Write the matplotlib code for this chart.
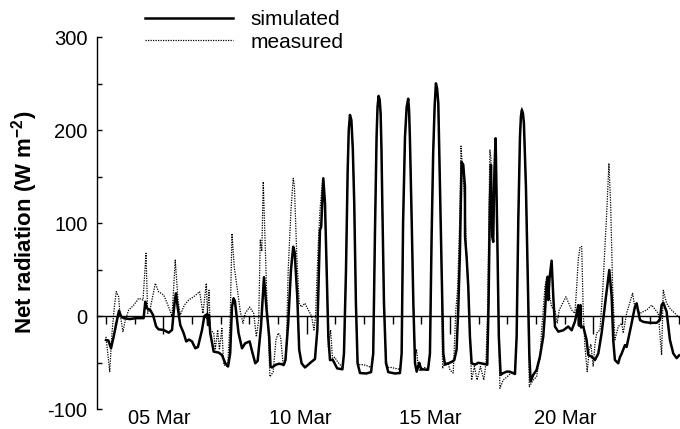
import numpy as np
import matplotlib
matplotlib.use('Agg')
import matplotlib.pyplot as plt
from matplotlib.ticker import MultipleLocator, FixedLocator

plt.rcParams['font.family'] = ['Liberation Sans', 'DejaVu Sans']
plt.rcParams['mathtext.fontset'] = 'custom'
plt.rcParams['mathtext.rm'] = 'Liberation Sans'
plt.rcParams['mathtext.bf'] = 'Liberation Sans:bold'
plt.rcParams['axes.unicode_minus'] = False

# hours since 03 Mar 00:00
start_day = 3
sim_hours = [0, 2, 4.2, 6.4, 9.2, 10.9, 12.6, 14.8, 20, 25, 31.5, 32.9, 34.3, 37, 39.4,
             42, 44, 48.3, 52.5, 55.3, 57.5, 58.6, 60, 62.2, 65, 67.2, 69.5, 72, 74.8,
             77, 80.4, 82.3, 83.5, 84.2, 84.8, 85.5, 86.2, 87.3, 90.2, 94.3, 97.1, 99.9,
             102.2, 104, 105.5, 106.9, 108, 111, 113.9, 116.6, 120.3, 122, 125, 127,
             129.8, 132.3, 134.5, 136.7, 137.8, 139, 142.3, 145, 149, 150.3, 152.6,
             154.9, 156.8, 158, 160.2, 161.8, 163.8, 166.6, 169.4, 172, 175, 177, 179.2,
             180.2, 182, 183.4, 184.8, 186.2, 187.6, 190, 193.6, 198, 199.3, 201, 202.4,
             203.3, 204.3, 205.5, 206.7, 207.9, 209.3, 210.7, 212.7, 218, 222, 223.8,
             225.2, 226.6, 227.4, 228.3, 229.2, 230, 230.7, 231.4, 232.8, 234.5, 236.4,
             242, 246.2, 247.6, 248.8, 250.4, 251.8, 253.1, 253.8, 254.5, 256, 257.4,
             258.8, 260.2, 261.5, 262.3, 264, 269.7, 271.3, 272.7, 274, 275.2, 276.3,
             277.3, 278.3, 279.7, 281, 282.5, 283.9, 286.7, 289.5, 291.7, 293.6, 295,
             296.4, 297.8, 299.2, 300.6, 300.7, 302, 303.4, 304.8, 306.2, 309, 311.8,
             316, 319.3, 320.4, 321.5, 322.4, 323.5, 324.3, 325.3, 326.3, 327.7, 329,
             330.5, 332, 335.5, 338, 342.5, 343.9, 345.3, 346.7, 347.5, 348.3, 349.2,
             350, 351.7, 353.1, 354.5, 355.6, 357.8, 360.6, 363.4, 366.2, 367.6, 369,
             369.9, 370.4, 371.4, 373.2, 374.6, 376, 378.8, 383, 387.1, 390, 392.7,
             394.2, 395.5, 396.1, 396.5, 397, 397.4, 397.8, 399.7, 402.5, 403.9, 406.7,
             409.5, 412.3, 415.1, 418.7, 421.5, 423.5, 424.8, 426.2, 429, 430.4, 431.9,
             434.6, 436, 440.2, 442.9, 444.4, 447.2, 450, 455.5, 461.1, 463.9, 465.3,
             466.7, 469.5, 472.3, 475.1, 477.9, 480]
sim_values = [-25.5, -26, -34.4, -22, -4, 6, 0, -2, -3, -2, -2, 15.7, 8.6, 6.8, 1.4,
              -11, -14, -14.7, -17.6, -14.7, 15.7, 24.7, 10, -9.4, -18, -27, -25, -27, -34.4,
              -33, -14.7, 0, 1.4, -1, 2.5, -9.4, 1.4, -18, -38, -39, -41.6, -50.5,
              -54, -40, 10, 19.4, 16, -18, -34.4, -29, -27, -36, -50.5, -48,
              -11, 42, 6.8, -22, -54, -55, -52, -51, -52, -47, -7.5,
              49.8, 74.8, 69, 21, -36, -50.5, -55, -52, -49, -46, -14.7, 92.8,
              96, 148.4, 121.5, 49.8, -22, -47, -47, -56, -57, -40, 49.8, 157,
              200, 216.5, 211, 180, 121.5, 14, -50.5, -61, -61.5, -60, -40,
              85.6, 193, 225, 237, 233, 218, 180, 121.5, 14, -50.5, -60,
              -61.5, -61, -40, 100, 193, 225, 234, 222, 193, 103.5, 14,
              -50.5, -59.5, -54, -50, -57, -57.5, -40, 85.6, 175, 225, 250.5,
              245, 229, 139, 49.8, -40, -52, -50.5, -49, -47, -36, 6.8,
              67.7, 166, 163, 140, 85.6, 64, 31.8, -22, -50.5, -52, -50,
              -51, -52, 14, 121.5, 162.7, 85.6, 80, 157, 191.4, 85.6, -22,
              -63, -61.5, -59.5, -59.5, -62, -22, 103.5, 193, 215, 221.8, 218,
              207.5, 139, 49.8, -40, -70, -63, -57.7, -43.4, -22, 3.2, 35.5,
              42.6, 17.5, 40, 59.8, 21, -11, -16.5, -15, -11, -15, -5.8,
              3.2, 12, -10, 10, 0, 12, -12, -11, -25.5, -41.6, -43.4,
              -47, -40, -18, 21, 49.8, 21, -25.5, -47, -50.5, -44, -40,
              -31, -33, -7.5, 10, 14, -4, -6, -7, -7, -4, 12,
              14.6, 5, -25.5, -40, -45, -42]

meas_hours = [0, 3.1, 5, 7, 8.6, 10.6, 11.5, 12.6, 14.2, 16.2, 19, 23.2, 27.4, 31, 33.5,
              34.9, 37, 41.3, 44, 48.3, 52.5, 55.3, 58, 60.3, 62.2, 65.6, 69.2, 73.4,
              78.4, 81.2, 84, 85, 86.3, 87.3, 90.2, 91.5, 93.5, 95, 97.1, 98.5, 101.9,
              104, 105.5, 107.4, 109.7, 112.5, 114.7, 116.6, 120.3, 123.7, 125.9, 127.9,
              129.2, 130.5, 131.7, 133.1, 134.5, 137.3, 140, 142.3, 144.3, 146.2, 148.5,
              150.8, 152.6, 154.9, 156.8, 157.8, 159.7, 161.8, 163.8, 166.6, 169.4,
              172.2, 174.2, 175.5, 177.8, 179.2, 181.4, 183.4, 184.8, 186.2, 188.1,
              189.8, 191.5, 194, 198, 199.3, 201, 202.4, 203.3, 204.3, 205.5, 206.7,
              207.9, 209.3, 210.7, 212.7, 215.5, 218.2, 222, 223.8, 225.2, 226.6, 227.4,
              228.3, 229.2, 230, 230.7, 231.4, 232.8, 234.5, 236.4, 239, 242, 246.2,
              247.6, 248.8, 250.4, 251.8, 253.1, 253.8, 254.5, 256, 257.4, 258.8, 260.1,
              261.5, 263, 266, 269.7, 271.3, 272.7, 274, 275.2, 276.3, 277.3, 278.3,
              279.7, 281, 281.9, 283.9, 286.7, 288, 290.8, 293, 294.5, 296.4, 297.3,
              299.2, 300.6, 302, 303.4, 304.8, 306.2, 308.5, 310.8, 313.6, 316.4, 318.2,
              319.5, 321.5, 322.4, 323.5, 325.3, 326.3, 327.7, 329, 329.9, 332.7, 336,
              339, 342.5, 343.9, 345.3, 346.7, 347.5, 348.3, 349.2, 350, 351.7, 353.1,
              354.5, 357.8, 360.6, 362.5, 363.4, 364.8, 366.2, 367.6, 369, 370.4, 371.8,
              373.2, 376, 377.9, 379.6, 382.4, 385.2, 390, 392.7, 394.2, 395.5, 397,
              398.4, 399.7, 401.1, 403, 404.7, 406.1, 408, 409.5, 410.9, 413.7, 416,
              417.9, 419.3, 421.2, 422.6, 424.3, 426.2, 429, 431.9, 433.2, 436, 441,
              442.9, 447.2, 452.8, 457, 462.5, 465.3, 466.7, 469.5, 472.3, 476.4, 480]
meas_values = [-22, -59.5, -18, 10, 26.5, 21, 5, -4, -16.5, -4, 6.8, 12, 19.4, 17.5, 67.7,
               3.2, 8, 35.5, 26.5, 23, 10, 0, 60.5, 17.5, 1.4, 12, 17.5, 21,
               26.5, 3.2, 35.5, 3, 28, -14.7, -18, -36, -14.7, -36, -13, -52, -54,
               -4, 89, 53, 31.8, 5, -7.5, 3.2, 10, 3.2, -22, -4,
               82, 70, 144.7, 85.6, 28, -65, -60, -25.5, -18, -22, -54,
               -44, 49.8, 114, 148.4, 140, 67.7, 14, 10, 14, 6.8,
               0, -14.7, 0, 78.5, 114, 146.6, 121.5, 49.8, -32.7, -14.7,
               -47, -44, -49, -55, -40, 49.8, 160, 198, 214, 210, 180,
               121.5, 14, -50.5, -52, -52, -53, -55, -40, 85.6, 190, 223,
               235, 231, 218, 180, 121.5, 14, -48, -55, -55, -56, -57,
               -40, 100, 193, 224, 232, 220, 193, 103.5, 14, -45, -36,
               -55, -59, -55, -56, -40, 85.6, 175, 224, 248, 243, 229,
               139, 49.8, -56, -50, -50.5, -57.7, -61, 6.8, 30, 110, 183,
               146.6, 121.5, 64, 31.8, -22, -68.5, -54, -68.5, -54, -68.5, -50.5,
               0, 178.8, 170, 85.6, 150, 185, 85.6, -22, -77.4, -68.5, -65,
               -61, -60, -22, 103.5, 193, 217, 224, 219, 207, 139, 49.8,
               -75.7, -68.5, -65, -50, -47, -14.7, 6.8, 31.8, 40.8, 42.6, 20,
               10, 6.8, -7.5, 6.8, 14, 21, 6.8, 3.2, 31.8, 60.5, 74.8,
               75, 3.2, -32.7, -59.5, -36, -30, -54, -30, -18, -14.7, 28,
               74.8, 110, 164.5, 121.5, 31.8, -25.5, -11, -7.5, -18, 3.2, 24.7,
               10, 3.2, 6.8, 12, 3.2, -41.6, 28, 14, 8.6, 3.2, -1]

date_labels = ['05 Mar', '10 Mar', '15 Mar', '20 Mar']
date_label_days = [4.85, 9.77, 14.3, 19.03]

x_sim = start_day + np.array(sim_hours) / 24.0
x_meas = start_day + np.array(meas_hours) / 24.0

fig = plt.figure(figsize=(6.8, 4.29), dpi=100)
ax = fig.add_axes([97 / 680, 19.7 / 429, 583 / 680, 372 / 429])

ax.plot(x_sim, sim_values, color='black', lw=1.8, solid_joinstyle='round', label='simulated')
ax.plot(x_meas, meas_values, color='black', lw=0.9, ls=(0, (1, 1)), label='measured')

ax.set_xlim(2.686, 23.03)
ax.set_ylim(-100, 300)

for s in ['top', 'right']:
    ax.spines[s].set_visible(False)
ax.spines['bottom'].set_position(('data', 0))
ax.spines['bottom'].set_linewidth(1.0)
ax.spines['left'].set_linewidth(1.0)

ax.xaxis.set_major_locator(FixedLocator([5, 10, 15, 20]))
ax.xaxis.set_minor_locator(MultipleLocator(1))
ax.tick_params(axis='x', which='major', direction='out', length=13, width=1, labelbottom=False)
ax.tick_params(axis='x', which='minor', direction='out', length=6, width=1)

ax.yaxis.set_major_locator(MultipleLocator(100))
ax.yaxis.set_minor_locator(MultipleLocator(50))
ax.tick_params(axis='y', which='both', direction='in', length=3.6, width=1, pad=6.8, labelsize=14.5)

for lbl, d in zip(date_labels, date_label_days):
    ax.annotate(lbl, xy=(d, 0), xycoords=('data', 'axes fraction'), xytext=(0, -10.6),
                textcoords='offset points', ha='center', va='baseline', fontsize=14.5)

fig.text(25 / 680, 1 - 222.5 / 429, r'Net radiation (W m$^{\mathbf{-2}}$)', rotation=90,
         ha='center', va='center', fontsize=16, fontweight='bold')

fig.legend(loc='upper left', bbox_to_anchor=(145 / 680, 1 - 10 / 429), frameon=False,
           fontsize=15, handlelength=4.2, handletextpad=0.85, labelspacing=0.18,
           borderpad=0, borderaxespad=0)

fig.savefig('out.png', dpi=100)
